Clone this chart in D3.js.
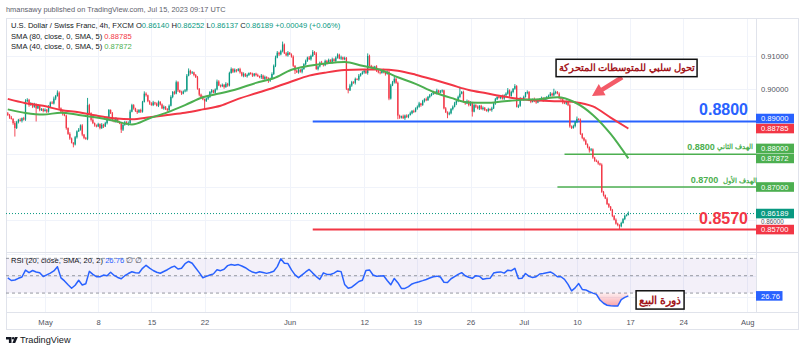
<!DOCTYPE html>
<html>
<head>
<meta charset="utf-8">
<script src="https://cdn.jsdelivr.net/npm/d3@7"></script>
<style>
  html, body { margin: 0; padding: 0; background: #fff; }
  svg { display: block; }
  text { font-family: "Liberation Sans", Arial, sans-serif; }
</style>
</head>
<body>
<div id="chart"></div>
<script>
// USD/CHF 4h bars, prices in pips (1 = 0.0001)
const firstOpen = 8925;
const closes = [
  8920, 8912, 8908, 8895, 8880, 8898, 8905, 8902, 8910, 8906,
  8962, 8966, 8950, 8955, 8945, 8952, 8940, 8948, 8935, 8938,
  8932, 8936, 8930, 8945, 8958, 8955, 8970, 8978, 8988, 8940,
  8930, 8922, 8918, 8880, 8862, 8848, 8835, 8830, 8852, 8870,
  8875, 8888, 8860, 8850, 8847, 8950, 8925, 8905, 8895, 8888,
  8885, 8892, 8880, 8890, 8885, 8895, 8910, 8935, 8925, 8905,
  8900, 8908, 8898, 8895, 8875, 8890, 8898, 8892, 8895, 8930,
  8950, 8940, 8932, 8928, 8935, 8930, 8960, 8985, 8980, 8962,
  8955, 8950, 8958, 8955, 8948, 8960, 8952, 8940, 8945, 8938,
  8935, 8948, 8975, 8990, 8985, 9020, 8995, 8990, 8985, 8992,
  8995, 9040, 9055, 9048, 9050, 9042, 9035, 9000, 8982, 8975,
  8968, 8962, 8970, 8975, 8990, 8995, 8988, 8998, 9022, 9010,
  9008, 9012, 9005, 9015, 9010, 9048, 9060, 9052, 9058, 9055,
  9060, 9050, 9040, 9045, 9038, 9042, 9048, 9045, 9040, 9046,
  9042, 9038, 9035, 9040, 9030, 9036, 9032, 9025, 9030, 9045,
  9070, 9095, 9110, 9105, 9115, 9135, 9108, 9102, 9110, 9105,
  9098, 9070, 9055, 9050, 9058, 9052, 9060, 9075, 9085, 9095,
  9090, 9100, 9112, 9108, 9060, 9068, 9080, 9075, 9072, 9085,
  9078, 9088, 9082, 9090, 9085, 9095, 9104, 9092, 9096, 9090,
  9094, 9000, 8995, 9010, 9020, 9018, 9030, 9028, 9040, 9045,
  9050, 9055, 9048, 9100, 9070, 9065, 9060, 9068, 9055, 9050,
  9048, 9056, 9050, 9045, 9052, 8970, 9010, 9020, 9030, 9018,
  8918, 8912, 8916, 8910, 8918, 8914, 8920, 8925, 8932, 8930,
  8940, 8945, 8955, 8950, 8962, 8968, 8965, 8975, 8980, 8985,
  8990, 8985, 8995, 8988, 8992, 8995, 8940, 8928, 8922, 8925,
  8938, 8945, 8955, 8962, 8975, 8985, 8990, 8960, 8955, 8962,
  8950, 8958, 8930, 8950, 8945, 8940, 8948, 8938, 8942, 8935,
  8932, 8938, 8935, 8940, 8955, 8968, 8975, 8972, 8978, 8970,
  8980, 8985, 8995, 8978, 8990, 9000, 9008, 8945, 8948, 8970,
  8968, 8975, 8988, 8990, 8965, 8960, 8968, 8962, 8958, 8965,
  8968, 8972, 8965, 8970, 8975, 8978, 8985, 8980, 8988, 8990,
  8985, 8972, 8968, 8958, 8955, 8960, 8950, 8885, 8880, 8886,
  8898, 8908, 8905, 8862, 8850, 8842, 8830, 8822, 8812, 8815,
  8790, 8780, 8778, 8772, 8768, 8685, 8675, 8665, 8648, 8640,
  8630, 8612, 8600, 8588, 8584, 8580, 8590, 8602, 8612, 8614,
  8618.9
];
// wick length above / below the body, pips
const wickUp = [
  4,3,5,2,6,4,3,5,2,4, 6,5,3,4,2,5,3,4,2,3, 3,4,2,5,3,4,6,3,7,4, 3,2,4,3,2,5,3,2,4,3,
  5,3,4,2,3,22,4,3,5,2, 3,4,2,5,3,4,6,3,2,4, 3,5,2,4,3,2,4,3,5,6, 4,3,2,5,3,4,3,7,4,2,
  3,4,5,2,3,4,2,3,4,2, 3,4,5,3,4,5,3,2,4,3, 4,5,7,3,4,2,3,4,2,3, 4,2,3,5,3,4,2,3,6,4,
  3,4,2,5,3,4,5,3,4,2, 3,4,2,5,3,4,2,3,4,2, 3,4,2,5,3,4,2,3,4,5, 4,6,5,3,4,9,3,4,5,2,
  3,4,2,3,4,2,5,3,4,3, 5,4,6,3,4,2,3,5,2,4, 3,4,2,5,3,4,4,3,5,2, 4,3,2,5,4,3,4,2,5,3,
  4,3,2,8,4,3,5,2,4,3, 4,3,5,2,4,3,5,4,7,3, 4,3,2,5,3,4,2,5,3,4, 3,4,5,2,4,3,5,3,4,2,
  4,3,5,2,4,3,2,4,3,5, 3,4,5,3,4,21,3,4,2,5, 3,4,2,5,3,4,2,3,4,2, 3,4,2,5,3,4,2,5,3,4,
  3,4,7,3,4,2,6,3,4,5, 3,4,2,5,3,4,2,5,3,4, 3,4,2,5,3,4,5,3,12,4, 3,4,2,5,3,4,2,5,3,4,
  3,7,2,4,3,2,4,3,2,4, 3,2,4,3,2,4,3,2,4,3, 2,3,2,4,3,2,4,3,4,3, 6.3
];
const wickDn = [
  3,4,2,5,26,3,4,2,5,3, 4,3,5,2,4,3,40,2,4,3, 4,2,5,3,4,2,3,5,2,4, 3,4,2,5,3,4,2,9,3,4,
  2,3,5,4,3,4,2,5,3,4, 3,2,4,3,5,2,4,3,2,5, 3,4,2,3,10,4,3,2,5,3, 2,4,3,5,2,4,3,2,4,3,
  4,2,3,5,2,4,3,2,4,3, 5,3,2,4,3,2,5,3,4,2, 3,4,2,5,3,4,2,3,5,4, 3,24,2,4,3,5,2,4,3,2,
  4,3,5,2,4,3,2,4,3,5, 2,4,3,5,2,4,3,2,4,3, 4,2,3,5,2,4,3,7,4,2, 3,4,2,5,3,4,2,3,4,2,
  3,4,10,2,4,3,5,2,4,3, 2,4,3,5,2,4,3,2,4,3, 4,2,3,5,2,4,3,2,4,3, 3,4,9,2,4,3,5,2,4,3,
  2,4,3,5,2,4,3,2,4,3, 4,2,3,5,2,5,3,2,4,3, 11,4,3,2,5,3,4,2,3,4, 2,4,3,5,2,4,3,2,4,3,
  4,2,3,5,2,4,3,2,12,3, 3,4,2,5,3,4,2,3,4,2, 4,3,15,2,4,3,5,2,4,3, 2,4,3,5,2,4,3,2,4,3,
  4,2,3,5,2,4,3,2,4,3, 3,4,2,5,3,4,2,3,4,2, 4,3,5,2,4,3,2,4,3,5, 2,4,3,5,2,4,3,4,3,2,
  4,3,2,3,4,3,2,4,7,3, 4,3,2,4,3,3,4,2,3,4, 3,4,2,3,4,9,3,2,3,2, 0.3
];

// moving averages, one value every 10 bars
const smaStep = 10;
const sma80 = [
  8969, 8956, 8948, 8935, 8928, 8918, 8910, 8907, 8913, 8920,
  8927, 8937, 8948, 8969, 8986, 9003, 9022, 9040, 9050, 9057,
  9059, 9059, 9055, 9043, 9028, 9012, 8996, 8986, 8976, 8968,
  8964, 8962, 8959, 8946, 8912, 8878.5
];
const sma40 = [
  8937, 8926, 8921, 8927, 8920, 8912, 8902, 8891, 8910, 8928,
  8950, 8974, 8986, 9000, 9018, 9032, 9058, 9070, 9078, 9082,
  9070, 9058, 9035, 9015, 8990, 8972, 8958, 8957, 8962, 8966,
  8968, 8974, 8958, 8920, 8862, 8787.2
];

// RSI(20), one value every 2 bars
const rsiStep = 2;
const rsi = [
  47.5, 44.5, 45, 47, 48.5, 56.5, 53.5, 56, 54.3, 53.5,
  49, 51, 53, 55.5, 60.4, 47.5, 44, 39.5, 35.5, 39,
  44.7, 39.3, 40.7, 55, 51.5, 48.8, 48.8, 50.7, 50, 54,
  50.3, 48, 46.5, 50, 52.5, 54.5, 53.5, 53.2, 58.5, 62,
  58.8, 56, 54, 52.8, 54.8, 56.9, 59.4, 61, 57.7, 58.5,
  63.8, 66.4, 64.3, 58.8, 53.5, 47.7, 49.2, 50.8, 52.1, 56.8,
  55.8, 57.5, 61.6, 63, 62.1, 62.8, 61.2, 59.2, 56.5, 54.2,
  53.2, 54.5, 53.6, 52.7, 53.7, 55.2, 60.5, 69.5, 64.3, 64,
  56.7, 51, 47.7, 51, 54.3, 57.2, 53, 49, 45.8, 53.3,
  51.5, 51.4, 53, 55.5, 54.7, 40, 35.5, 36.8, 40, 43.3,
  44.7, 56, 56.7, 50.8, 49.4, 49.6, 50, 44.5, 39.5, 46.8,
  42, 35.4, 35.4, 37.5, 40.5, 42, 43, 44.3, 45.7, 47.3,
  48.8, 49.5, 48.5, 42.5, 42.2, 46.5, 49, 51.5, 53.5, 50,
  48.2, 47, 50, 49.4, 45.8, 46.7, 47, 53, 54, 54.4,
  53, 56.4, 55.8, 58.5, 46.7, 47, 52.5, 49.2, 48, 48.8,
  52, 52.5, 53.5, 54.3, 52, 48.8, 48.8, 45.8, 40, 32.5,
  36, 41, 34.2, 33.6, 31.5, 29.9, 28.5, 22, 18.3, 16,
  15.3, 15, 15, 22.5, 25, 26.76
];

// time axis
const startDate = "2023-04-25";   // first bar: 12:00 of this day
const firstBarOffset = 3;
const barsPerDay = 6;
const tickDates = ["2023-05-01", "2023-05-08", "2023-05-15", "2023-05-22", "2023-06-01", "2023-06-12",
  "2023-06-19", "2023-06-26", "2023-07-03", "2023-07-10", "2023-07-17", "2023-07-24", "2023-08-01"];
const tickLabels = ["May", "8", "15", "22", "Jun", "12", "19", "26", "Jul", "10", "17", "24", "Aug"];

const priceTicks = [8600, 8700, 8800, 8900, 9000, 9100];
const rsiTicks = [25, 50, 75];
const rsiBands = [70, 50, 30];

// drawn levels: price and the bar they start from
const levelPrices = [8900, 8570, 8800, 8700];
const levelStarts = [172, 172, 314, 310];
// price scale labels
const markValues = [8900, 8878.5, 8800, 8787.2, 8700, 8618.9, 8570];

const W = 800, H = 352;
const plotL = 6, plotR = 756;
const mainTop = 18, mainBottom = 252, rsiTop = 252, rsiBottom = 312;
const green = "#4caf50", red = "#f23645", blue = "#2962ff", teal = "#089981", up = "#089981";
const gridColor = "#f0f3fa", axisText = "#50535e";

const svg = d3.select("#chart").append("svg").attr("width", W).attr("height", H);
svg.append("rect").attr("width", W).attr("height", H).attr("fill", "#fff");

const x = d3.scaleLinear().domain([-1, 422]).range([plotL, plotR]);
const y = d3.scaleLinear().domain([8501.5, 9216]).range([mainBottom, mainTop]);
const yR = d3.scaleLinear().domain([8.2, 77.3]).range([rsiBottom, rsiTop]);

function barOf(dateStr) {
  const d0 = new Date(startDate + "T00:00:00Z"), d1 = new Date(dateStr + "T00:00:00Z");
  let n = 0;
  for (let d = new Date(d0); d < d1; d.setUTCDate(d.getUTCDate() + 1)) {
    const wd = d.getUTCDay();
    if (wd !== 0 && wd !== 6) n++;
  }
  return n * barsPerDay - firstBarOffset;
}
const tickBars = tickDates.map(barOf);
const fmt = v => (v / 10000).toFixed(5);

const defs = svg.append("defs");
defs.append("clipPath").attr("id", "clipMain").append("rect")
  .attr("x", plotL).attr("y", mainTop).attr("width", plotR - plotL).attr("height", mainBottom - mainTop);
defs.append("clipPath").attr("id", "clipRsi").append("rect")
  .attr("x", plotL).attr("y", rsiTop).attr("width", plotR - plotL).attr("height", rsiBottom - rsiTop);
defs.append("clipPath").attr("id", "clipRsiAxis").append("rect")
  .attr("x", plotR).attr("y", rsiTop + 1).attr("width", W - plotR).attr("height", rsiBottom - rsiTop - 1);
const grad = defs.append("linearGradient").attr("id", "oversold")
  .attr("gradientUnits", "userSpaceOnUse").attr("x1", 0).attr("x2", 0)
  .attr("y1", yR(30)).attr("y2", yR(15));
grad.append("stop").attr("offset", 0).attr("stop-color", red).attr("stop-opacity", 0.08);
grad.append("stop").attr("offset", 1).attr("stop-color", red).attr("stop-opacity", 0.45);

// grid
const grid = svg.append("g").attr("stroke", gridColor).attr("stroke-width", 1);
tickBars.forEach(b => {
  grid.append("line").attr("x1", Math.round(x(b)) + 0.5).attr("x2", Math.round(x(b)) + 0.5)
    .attr("y1", mainTop).attr("y2", rsiBottom);
});
priceTicks.forEach(p => {
  grid.append("line").attr("x1", plotL).attr("x2", plotR)
    .attr("y1", Math.round(y(p)) + 0.5).attr("y2", Math.round(y(p)) + 0.5);
});
rsiTicks.forEach(r => {
  grid.append("line").attr("x1", plotL).attr("x2", plotR)
    .attr("y1", Math.round(yR(r)) + 0.5).attr("y2", Math.round(yR(r)) + 0.5);
});

// frame
const frame = svg.append("g").attr("stroke", "#e0e3eb").attr("fill", "none");
frame.append("rect").attr("x", plotL + 0.5).attr("y", mainTop + 0.5).attr("width", 798 - plotL).attr("height", 329 - mainTop);
frame.append("line").attr("x1", plotL).attr("x2", 798).attr("y1", rsiTop + 0.5).attr("y2", rsiTop + 0.5);
frame.append("line").attr("x1", plotL).attr("x2", 798).attr("y1", rsiBottom + 0.5).attr("y2", rsiBottom + 0.5);
frame.append("line").attr("x1", plotR + 0.5).attr("x2", plotR + 0.5).attr("y1", mainTop).attr("y2", rsiBottom);

// ---------- RSI pane ----------
const rsiG = svg.append("g").attr("clip-path", "url(#clipRsi)");
rsiG.append("rect").attr("x", plotL).attr("width", plotR - plotL)
  .attr("y", yR(70)).attr("height", yR(30) - yR(70)).attr("fill", "rgba(126,87,194,0.09)");
rsiBands.forEach(r => {
  rsiG.append("line").attr("x1", plotL).attr("x2", plotR).attr("y1", yR(r)).attr("y2", yR(r))
    .attr("stroke", "#9598a1").attr("stroke-width", 1).attr("stroke-dasharray", "3,3");
});
rsiG.append("path").datum(rsi)
  .attr("fill", "url(#oversold)")
  .attr("d", d3.area().x((d, k) => x(k * rsiStep)).y0(yR(30)).y1(d => yR(Math.min(d, 30))));
rsiG.append("path").datum(rsi)
  .attr("fill", "none").attr("stroke", blue).attr("stroke-width", 1.5).attr("stroke-linejoin", "round")
  .attr("d", d3.line().x((d, k) => x(k * rsiStep)).y(d => yR(d)));

// ---------- main pane ----------
const main = svg.append("g").attr("clip-path", "url(#clipMain)");
const lastClose = closes[closes.length - 1];
main.append("line").attr("x1", plotL).attr("x2", plotR).attr("y1", y(lastClose)).attr("y2", y(lastClose))
  .attr("stroke", teal).attr("stroke-width", 1).attr("stroke-dasharray", "1,2");

const levelColors = [blue, red, green, green];
const levelWidths = [2, 2, 1.5, 1.5];
levelPrices.forEach((p, k) => {
  main.append("line").attr("x1", x(levelStarts[k])).attr("x2", plotR).attr("y1", y(p)).attr("y2", y(p))
    .attr("stroke", levelColors[k]).attr("stroke-width", levelWidths[k]);
});

const bars = closes.map((c, i) => {
  const o = i === 0 ? firstOpen : closes[i - 1];
  return { i, o, c, h: Math.max(o, c) + wickUp[i], l: Math.min(o, c) - wickDn[i] };
});
const cg = main.append("g");
cg.selectAll("line").data(bars).enter().append("line")
  .attr("x1", d => x(d.i)).attr("x2", d => x(d.i))
  .attr("y1", d => y(d.h)).attr("y2", d => y(d.l))
  .attr("stroke", d => d.c >= d.o ? up : red).attr("stroke-width", 0.9);
cg.selectAll("rect").data(bars).enter().append("rect")
  .attr("x", d => x(d.i) - 0.65).attr("width", 1.3)
  .attr("y", d => y(Math.max(d.o, d.c)))
  .attr("height", d => Math.max(0.8, Math.abs(y(d.o) - y(d.c))))
  .attr("fill", d => d.c >= d.o ? up : red);

const smaLine = d3.line().x((d, k) => x(k * smaStep)).y(d => y(d)).curve(d3.curveMonotoneX);
main.append("path").datum(sma80).attr("fill", "none").attr("stroke", red).attr("stroke-width", 2).attr("d", smaLine);
main.append("path").datum(sma40).attr("fill", "none").attr("stroke", green).attr("stroke-width", 2).attr("d", smaLine);

// big level texts
svg.append("text").attr("x", x(417.5)).attr("y", y(8938)).attr("dy", "0.36em")
  .attr("text-anchor", "end").attr("font-size", 16).attr("font-weight", "bold").attr("fill", blue).text("0.8800");
svg.append("text").attr("x", x(417.5)).attr("y", y(8604.5)).attr("dy", "0.36em")
  .attr("text-anchor", "end").attr("font-size", 16).attr("font-weight", "bold").attr("fill", red).text("0.8570");

// target labels: Arabic word on the right, number to its left
const targets = [
  { num: "0.8800", ar: "الهدف الثاني", p: 8823, b1: 420.5 },
  { num: "0.8700", ar: "الهدف الأول", p: 8721.4, b1: 422.4 }
];
targets.forEach(t => {
  const ar = svg.append("text").attr("x", x(t.b1)).attr("y", y(t.p)).attr("dy", "0.36em").attr("text-anchor", "end")
    .attr("font-family", "DejaVu Sans").attr("font-size", 8).attr("font-weight", "bold").attr("fill", green).text(t.ar);
  let w = ar.node().getComputedTextLength();
  if (w > 36) { ar.attr("font-size", 8 * 36 / w); w = 36; }
  svg.append("text").attr("x", x(t.b1) - w - 2.5).attr("y", y(t.p)).attr("dy", "0.36em").attr("text-anchor", "end")
    .attr("font-size", 9).attr("font-weight", "bold").attr("fill", green).text(t.num);
});

// annotation box + arrow
function noteBox(cx, cy, w, h, label, fs) {
  const g = svg.append("g");
  g.append("rect").attr("x", cx - w / 2).attr("y", cy - h / 2).attr("width", w).attr("height", h)
    .attr("fill", "#fff").attr("stroke", "#111").attr("stroke-width", 1.5);
  const t = g.append("text").attr("x", cx).attr("y", cy).attr("dy", "0.35em").attr("text-anchor", "middle")
    .attr("font-family", "DejaVu Sans").attr("font-weight", "bold").attr("font-size", fs)
    .attr("fill", "#a3161b").text(label);
  const len = t.node().getComputedTextLength();
  if (len > w - 6) t.attr("font-size", fs * (w - 6) / len);
}
const tail = [x(346.5), y(9035)], tip = [x(329.5), y(8978)];
(function arrow() {
  const [x1, y1] = tail, [x2, y2] = tip;
  const dx = x2 - x1, dy = y2 - y1, len = Math.hypot(dx, dy);
  const ux = dx / len, uy = dy / len, nx = -uy, ny = ux;
  const hl = 12, hw = 13, sw = 4.5;
  const bx = x2 - ux * hl, by = y2 - uy * hl;
  const pts = [
    [x1 + nx * sw / 2, y1 + ny * sw / 2], [bx + nx * sw / 2, by + ny * sw / 2], [bx + nx * hw / 2, by + ny * hw / 2],
    [x2, y2], [bx - nx * hw / 2, by - ny * hw / 2], [bx - nx * sw / 2, by - ny * sw / 2], [x1 - nx * sw / 2, y1 - ny * sw / 2]
  ];
  svg.append("path").attr("d", "M" + pts.map(p => p.join(",")).join("L") + "Z").attr("fill", "#f35b68");
})();
noteBox(x(349), y(9063.4), 141, 17.4, "تحول سلبي للمتوسطات المتحركة", 12);
noteBox(x(367.9), yR(22.1), 48, 18.3, "ذورة البيع", 11);

// ---------- axes ----------
// price scale marks (pushed apart when they overlap)
const markColors = [blue, red, green, green, green, teal, red];
const marks = markValues.map((v, k) => ({ v, c: markColors[k], cy: y(v) }))
  .sort((a, b) => b.cy - a.cy);
for (let k = 1; k < marks.length; k++) marks[k].cy = Math.min(marks[k].cy, marks[k - 1].cy - 10);
const lastRsi = rsi[rsi.length - 1];

// axis labels that a mark would fully cover are left out
const freeTicks = priceTicks.filter(p => marks.every(m => Math.abs(m.cy - y(p)) > 5.5));
const freeRsiTicks = rsiTicks.filter(r => Math.abs(yR(r) - yR(lastRsi)) > 5.5);

const pAxis = svg.append("g").attr("transform", `translate(${plotR},0)`)
  .call(d3.axisRight(y).tickValues(freeTicks).tickFormat(fmt).tickSize(0).tickPadding(5));
pAxis.select(".domain").remove();
pAxis.selectAll("text").attr("font-size", 7.6).attr("fill", axisText).attr("font-family", "Liberation Sans");
// a label half under a mark is squeezed into the gap just below it
pAxis.selectAll(".tick").each(function (p) {
  const m = marks.find(m => Math.abs(m.cy - y(p)) < 9);
  if (m) d3.select(this).select("text").attr("font-size", 6.3).attr("y", m.cy + 8.2 - y(p));
});

const rAxis = svg.append("g").attr("transform", `translate(${plotR},0)`).attr("clip-path", "url(#clipRsiAxis)")
  .call(d3.axisRight(yR).tickValues(freeRsiTicks).tickFormat(d => d.toFixed(2)).tickSize(0).tickPadding(5));
rAxis.select(".domain").remove();
rAxis.selectAll("text").attr("font-size", 7.6).attr("fill", axisText).attr("font-family", "Liberation Sans");

const tAxis = svg.append("g").attr("transform", `translate(0,${rsiBottom})`)
  .call(d3.axisBottom(x).tickValues(tickBars).tickFormat((d, k) => tickLabels[k]).tickSize(0).tickPadding(8));
tAxis.select(".domain").remove();
tAxis.selectAll("text").attr("font-size", 7.6).attr("fill", axisText).attr("font-family", "Liberation Sans");

marks.forEach(m => {
  svg.append("rect").attr("x", plotR).attr("y", m.cy - 4.8).attr("width", 38).attr("height", 9.6).attr("fill", m.c);
  svg.append("text").attr("x", plotR + 5).attr("y", m.cy).attr("dy", "0.35em").attr("font-size", 7.6)
    .attr("fill", "#fff").text(fmt(m.v));
});
svg.append("rect").attr("x", plotR).attr("y", yR(lastRsi) - 4.8).attr("width", 26.5).attr("height", 9.6).attr("fill", blue);
svg.append("text").attr("x", plotR + 5).attr("y", yR(lastRsi)).attr("dy", "0.35em").attr("font-size", 7.6)
  .attr("fill", "#fff").text(lastRsi.toFixed(2));

// ---------- legends ----------
svg.append("text").attr("x", 6).attr("y", 9.5).attr("dy", "0.35em").attr("font-size", 7.4).attr("fill", "#5d606b")
  .text("hmansawy published on TradingView.com, Jul 15, 2023 09:17 UTC");

const lastBar = bars[bars.length - 1];
const chg = lastBar.c - lastBar.o;
const leg1 = svg.append("text").attr("x", 11).attr("y", 25).attr("dy", "0.35em").attr("font-size", 7.6).attr("fill", "#131722");
leg1.append("tspan").text("U.S. Dollar / Swiss Franc, 4h, FXCM ");
[["O", lastBar.o], ["H", lastBar.h], ["L", lastBar.l], ["C", lastBar.c]].forEach(([k, v]) => {
  leg1.append("tspan").text(" " + k);
  leg1.append("tspan").attr("fill", teal).text(fmt(v));
});
leg1.append("tspan").attr("fill", teal)
  .text(` +${fmt(chg)} (+${(chg / lastBar.o * 100).toFixed(2)}%)`);

[["SMA (80, close, 0, SMA, 5)", sma80[sma80.length - 1], red, 36],
 ["SMA (40, close, 0, SMA, 5)", sma40[sma40.length - 1], green, 46.7]].forEach(([name, v, c, ty]) => {
  const t = svg.append("text").attr("x", 11).attr("y", ty).attr("dy", "0.35em").attr("font-size", 7.6).attr("fill", "#131722");
  t.append("tspan").text(name + "  ");
  t.append("tspan").attr("fill", c).text(fmt(v));
});
const rl = svg.append("text").attr("x", 11).attr("y", 260.7).attr("dy", "0.35em").attr("font-size", 7.6).attr("fill", "#131722");
rl.append("tspan").text("RSI (20, close, SMA, 20, 2)  ");
rl.append("tspan").attr("fill", blue).text(lastRsi.toFixed(2));
rl.append("tspan").attr("fill", "#50535e").text("  \u2205  \u2205");

// TradingView mark
const logo = svg.append("g").attr("fill", "#131722");
logo.append("path").attr("d", "M6,337 h5.5 v6 h-2.6 v-3.6 h-2.9 z");
logo.append("circle").attr("cx", 13.2).attr("cy", 338.3).attr("r", 1.3);
logo.append("path").attr("d", "M15,337 h2.8 l-2.6,6 h-2.8 z");
svg.append("text").attr("x", 20).attr("y", 340).attr("dy", "0.35em").attr("font-size", 9.2).attr("fill", "#131722")
  .text("TradingView");
</script>
</body>
</html>
